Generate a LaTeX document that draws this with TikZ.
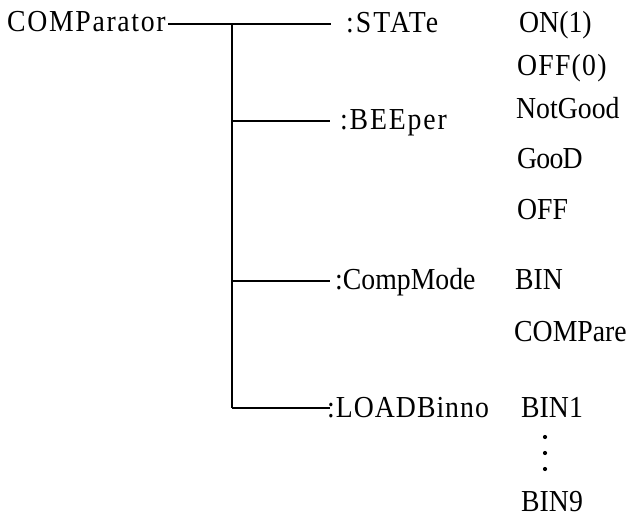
\documentclass[tikz,border=0pt]{standalone}
\usepackage{fontspec}
\setmainfont{Liberation Serif}[FakeStretch=0.91]
\begin{document}
\begin{tikzpicture}[x=1pt,y=-1pt,
  lbl/.style={inner sep=0pt,anchor=base west,font=\fontsize{30.5}{32}\selectfont},
  ls/.style={font=\fontsize{30.5}{32}\selectfont\addfontfeature{LetterSpace=#1}},
  conn/.style={line width=1.7pt,black},
  dotmark/.style={circle,fill=black,inner sep=0pt,minimum size=4.2pt}]
\useasboundingbox (0,0) rectangle (631,519);
% left root
\node[lbl,ls=5.5] (comp) at (7,32) {COMParator};
% second column
\node[lbl,ls=6.5] (state) at (346,33) {:STATe};
\node[lbl,ls=6] (beep) at (340,129) {:BEEper};
\node[lbl] (cmode) at (335,289) {:CompMode};
\node[lbl,ls=3.3] (loadb) at (327,417) {:LOADBinno};
% third column
\node[lbl] (on) at (519,33) {ON(1)};
\node[lbl,ls=4] (off0) at (517,75) {OFF(0)};
\node[lbl] (ng) at (516,118) {NotGood};
\node[lbl,ls=-2.5] (good) at (517,168) {GooD};
\node[lbl] (off) at (517,219) {OFF};
\node[lbl] (bin) at (515,289) {BIN};
\node[lbl] (compare) at (514,341) {COMPare};
\node[lbl] (bin1) at (521,417) {BIN1};
\node[lbl] (bin9) at (521,511) {BIN9};
\node[dotmark] (d1) at (545,437) {};
\node[dotmark] (d2) at (545,453) {};
\node[dotmark] (d3) at (545,469) {};
% connectors
\coordinate (c0) at (168,24);
\coordinate (j1) at (232,24);
\coordinate (j2) at (232,121);
\coordinate (j3) at (232,281);
\coordinate (j4) at (232,408);
\coordinate (e1) at (331,24);
\coordinate (e2) at (330,121);
\coordinate (e3) at (330,281);
\coordinate (e4) at (330,408);
\draw[conn] (c0) -- (e1);
\draw[conn] (j1) -- (j4);
\draw[conn] (j2) -- (e2);
\draw[conn] (j3) -- (e3);
\draw[conn] (j4) -- (e4);
\end{tikzpicture}
\end{document}
